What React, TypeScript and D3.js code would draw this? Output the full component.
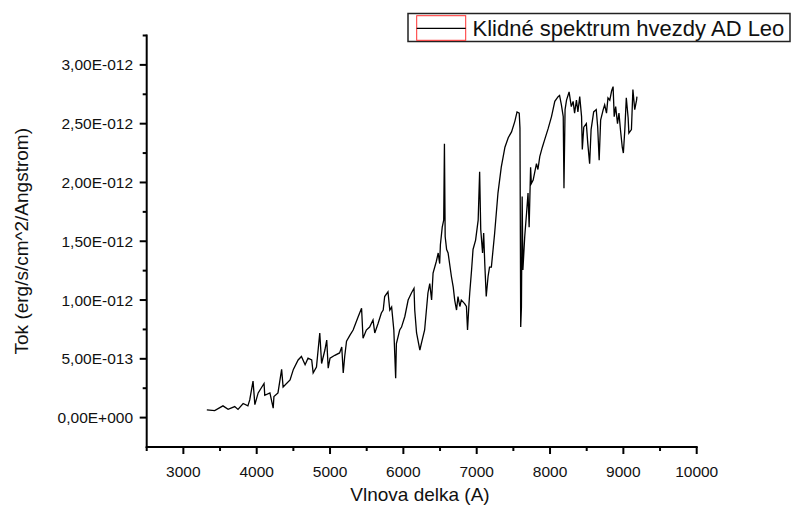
import React from "react";
import * as d3 from "d3";

// Wavelength (Angstrom)
const wavelength = [
  3320, 3427, 3540, 3610, 3700, 3745, 3815, 3880, 3905, 3950, 3975, 4020, 4100, 4110, 4180, 4225, 4235, 4290,
  4340, 4360, 4455, 4500, 4565, 4610, 4660, 4700, 4750, 4770, 4815, 4860, 4885, 4930, 4955, 4975, 5000, 5065,
  5130, 5160, 5180, 5200, 5225, 5270, 5315, 5385, 5430, 5450, 5495, 5540, 5586, 5610, 5655, 5700, 5725, 5745,
  5790, 5815, 5840, 5870, 5895, 5905, 5950, 5975, 6020, 6065, 6110, 6145, 6155, 6180, 6225, 6245, 6290, 6335,
  6360, 6385, 6405, 6450, 6475, 6495, 6505, 6530, 6550, 6560, 6570, 6590, 6610, 6655, 6680, 6700, 6725, 6745,
  6770, 6790, 6835, 6860, 6875, 6895, 6905, 6930, 6950, 6985, 7020, 7040, 7055, 7080, 7095, 7110, 7130, 7155,
  7175, 7200, 7245, 7290, 7335, 7385, 7430, 7475, 7520, 7550, 7580, 7590, 7600, 7610, 7620, 7630, 7655, 7680,
  7700, 7715, 7735, 7745, 7770, 7815, 7835, 7860, 7895, 7925, 7975, 8020, 8065, 8110, 8130, 8155, 8180, 8190,
  8205, 8225, 8260, 8290, 8315, 8335, 8360, 8380, 8405, 8430, 8440, 8460, 8495, 8515, 8540, 8560, 8595, 8630,
  8650, 8670, 8690, 8725, 8745, 8770, 8790, 8815, 8840, 8860, 8875, 8895, 8920, 8940, 8960, 8985, 9000, 9020,
  9040, 9065, 9075, 9110, 9130, 9155, 9180, 9185,
];

// Flux in units of 1e-12 erg/s/cm^2/Angstrom
const flux = [
  0.065, 0.06, 0.1, 0.07, 0.094, 0.07, 0.12, 0.1, 0.15, 0.31, 0.11, 0.21, 0.29, 0.19, 0.21, 0.08, 0.18, 0.21,
  0.41, 0.26, 0.32, 0.41, 0.49, 0.52, 0.45, 0.505, 0.49, 0.38, 0.43, 0.72, 0.46, 0.575, 0.66, 0.42, 0.505, 0.53,
  0.55, 0.6, 0.38, 0.52, 0.65, 0.7, 0.745, 0.86, 0.93, 0.675, 0.745, 0.77, 0.83, 0.72, 0.8, 0.89, 0.915, 1.03,
  1.07, 0.915, 0.94, 0.745, 0.335, 0.63, 0.745, 0.77, 0.86, 1.0, 1.06, 1.1, 0.915, 0.72, 0.575, 0.63, 0.745, 1.06,
  1.14, 1.0, 1.23, 1.33, 1.4, 1.31, 1.47, 1.62, 1.68, 2.33, 1.54, 1.43, 1.4, 1.2, 1.11, 1.0, 0.915, 1.03,
  0.945, 1.0, 0.97, 0.945, 0.745, 0.97, 1.06, 1.255, 1.43, 1.51, 1.68, 2.09, 1.6, 1.4, 1.57, 1.31, 1.03, 1.2,
  1.28, 1.28, 1.57, 1.91, 2.13, 2.3, 2.38, 2.43, 2.52, 2.6, 2.59, 2.46, 0.77, 0.94, 1.88, 1.255, 1.54, 1.74,
  1.91, 1.62, 2.13, 1.99, 2.02, 2.16, 2.11, 2.22, 2.3, 2.36, 2.46, 2.56, 2.69, 2.73, 2.74, 2.66, 2.56, 1.95,
  2.62, 2.7, 2.77, 2.645, 2.69, 2.59, 2.7, 2.6, 2.73, 2.56, 2.28, 2.47, 2.5, 2.33, 2.16, 2.45, 2.6, 2.62,
  2.47, 2.19, 2.53, 2.62, 2.66, 2.59, 2.72, 2.7, 2.78, 2.815, 2.56, 2.645, 2.5, 2.59, 2.45, 2.3, 2.25, 2.45,
  2.72, 2.55, 2.42, 2.45, 2.79, 2.62, 2.7, 2.73,
];

const xTicks = [3000, 4000, 5000, 6000, 7000, 8000, 9000, 10000];
const xTickLabels = ["3000", "4000", "5000", "6000", "7000", "8000", "9000", "10000"];
const xMinorTicks = [2500, 3500, 4500, 5500, 6500, 7500, 8500, 9500];
const yTicks = [0, 0.5, 1.0, 1.5, 2.0, 2.5, 3.0];
const yTickLabels = ["0,00E+000", "5,00E-013", "1,00E-012", "1,50E-012", "2,00E-012", "2,50E-012", "3,00E-012"];
const yMinorTicks = [0.25, 0.75, 1.25, 1.75, 2.25, 2.75, 3.25];

const xTitle = "Vlnova delka (A)";
const yTitle = "Tok (erg/s/cm^2/Angstrom)";
const legendLabel = "Klidné spektrum hvezdy AD Leo";

const FONT = "'Liberation Sans', Arial, Helvetica, sans-serif";

export default function App() {
  const x = d3.scaleLinear().domain([2500, 10000]).range([146.7, 696.7]);
  const y = d3.scaleLinear().domain([-0.25, 3.25]).range([447, 35.5]);

  const pts: [number, number][] = wavelength.map((w, i) => [w, flux[i]]);
  const line = d3
    .line<[number, number]>()
    .x((d) => x(d[0]))
    .y((d) => y(d[1]));

  const x0 = x.range()[0];
  const y0 = y.range()[0];

  return (
    <div style={{ position: "fixed", left: 0, top: 0 }}>
      <svg width={794} height={508} style={{ display: "block", background: "#fff" }}>
        <rect width={794} height={508} fill="#fff" />
        {/* spectrum */}
        <path d={line(pts) || ""} fill="none" stroke="#000" strokeWidth={1.3} strokeLinejoin="miter" />

        {/* axes */}
        <g stroke="#000" strokeWidth={2} fill="none">
          <line x1={x0} y1={y0} x2={x.range()[1]} y2={y0} strokeLinecap="square" />
          <line x1={x0} y1={y0} x2={x0} y2={y.range()[1]} strokeLinecap="square" />
          {xTicks.map((t) => (
            <line key={"xt" + t} x1={x(t)} x2={x(t)} y1={y0} y2={y0 + 7} />
          ))}
          {xMinorTicks.map((t) => (
            <line key={"xm" + t} x1={x(t)} x2={x(t)} y1={y0} y2={y0 + 4} />
          ))}
          {yTicks.map((t) => (
            <line key={"yt" + t} x1={x0 - 7} x2={x0} y1={y(t)} y2={y(t)} />
          ))}
          {yMinorTicks.map((t) => (
            <line key={"ym" + t} x1={x0 - 4} x2={x0} y1={y(t)} y2={y(t)} />
          ))}
        </g>

        {/* tick labels */}
        <g fontFamily={FONT} fontSize={15.5} fill="#111">
          {xTicks.map((t, i) => (
            <text key={"xl" + t} x={x(t)} y={477} textAnchor="middle">
              {xTickLabels[i]}
            </text>
          ))}
          {yTicks.map((t, i) => (
            <text key={"yl" + t} x={133} y={y(t)} dy="0.36em" textAnchor="end">
              {yTickLabels[i]}
            </text>
          ))}
        </g>

        {/* axis titles */}
        <text x={420} y={501} textAnchor="middle" fontFamily={FONT} fontSize={19} fill="#111">
          {xTitle}
        </text>
        <text
          transform={`translate(27.5, ${(y.range()[0] + y.range()[1]) / 2}) rotate(-90)`}
          textAnchor="middle"
          fontFamily={FONT}
          fontSize={19}
          fill="#111"
        >
          {yTitle}
        </text>

        {/* legend */}
        <g>
          <rect x={408} y={13.5} width={382} height={28} fill="#fff" stroke="#222" strokeWidth={1.5} />
          <rect x={416.7} y={15.7} width={49} height={24.6} fill="none" stroke="#ff3030" strokeWidth={1} />
          <line x1={416.7} x2={465.7} y1={28.3} y2={28.3} stroke="#000" strokeWidth={1.2} />
          <text x={472.5} y={35.5} fontFamily={FONT} fontSize={22} fill="#111">
            {legendLabel}
          </text>
        </g>
      </svg>
    </div>
  );
}
